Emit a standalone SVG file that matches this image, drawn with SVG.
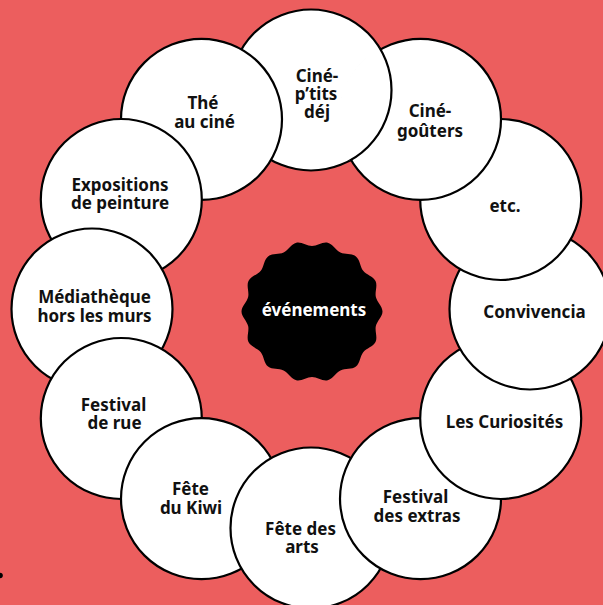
<svg xmlns="http://www.w3.org/2000/svg" xmlns:xlink="http://www.w3.org/1999/xlink" width="603" height="605" viewBox="0 0 603 605">
<style>
.bub{fill:#ffffff;stroke:#000000;stroke-width:2.2}
.lbl{font-family:"Noto Sans","Liberation Sans",sans-serif;font-weight:700;font-size:17px;fill:#111111;text-anchor:middle}
.ctr{font-family:"Noto Sans","Liberation Sans",sans-serif;font-weight:700;font-size:17px;fill:#ffffff;text-anchor:middle}
</style>
<defs>
<clipPath id="lens"><circle cx="420.5" cy="119.3" r="82.5"/></clipPath>
</defs>
<rect x="0" y="0" width="603" height="605" fill="#EC5E5E"/>
<g id="connectors"/>
<g id="n-ptits">
<circle id="c-ptits" class="bub" cx="311" cy="90" r="80.5"/>
<text class="lbl" x="317" y="81.5">Ciné-</text>
<text class="lbl" x="316" y="99.5">p’tits</text>
<text class="lbl" x="317" y="117.5">déj</text>
</g>
<g id="n-the">
<circle class="bub" cx="201.5" cy="119.3" r="80.5"/>
<text class="lbl" x="203" y="108.5">Thé</text>
<text class="lbl" x="204.5" y="127.7">au ciné</text>
</g>
<g id="n-expo">
<circle class="bub" cx="121.3" cy="199.5" r="80.5"/>
<text class="lbl" x="120" y="190.7">Expositions</text>
<text class="lbl" x="120" y="209.3">de peinture</text>
</g>
<g id="n-media">
<circle class="bub" cx="92" cy="309" r="80.5"/>
<text class="lbl" x="94.5" y="302.7">Médiathèque</text>
<text class="lbl" x="94.5" y="321.7">hors les murs</text>
</g>
<g id="n-rue">
<circle class="bub" cx="121.3" cy="418.5" r="80.5"/>
<text class="lbl" x="113.5" y="411">Festival</text>
<text class="lbl" x="114.5" y="429.3">de rue</text>
</g>
<g id="n-kiwi">
<circle class="bub" cx="201.5" cy="498.7" r="80.5"/>
<text class="lbl" x="190.5" y="495">Fête</text>
<text class="lbl" x="191" y="514">du Kiwi</text>
</g>
<g id="n-arts">
<circle class="bub" cx="311" cy="528" r="80.5"/>
<text class="lbl" x="300.5" y="535">Fête des</text>
<text class="lbl" x="302" y="553">arts</text>
</g>
<g id="n-extras">
<circle class="bub" cx="420.5" cy="498.7" r="80.5"/>
<text class="lbl" x="415.5" y="503">Festival</text>
<text class="lbl" x="417" y="522">des extras</text>
</g>
<g id="n-curiosites">
<circle class="bub" cx="500.7" cy="418.5" r="80.5"/>
<text class="lbl" x="504.5" y="428.3">Les Curiosités</text>
</g>
<g id="n-convivencia">
<circle class="bub" cx="530" cy="309" r="80.5"/>
<text class="lbl" x="534.5" y="318">Convivencia</text>
</g>
<g id="n-etc">
<circle class="bub" cx="500.7" cy="199.5" r="80.5"/>
<text class="lbl" x="505" y="212">etc.</text>
</g>
<g id="n-gouters">
<circle class="bub" cx="420.5" cy="119.3" r="80.5"/>
<text class="lbl" x="430" y="117">Ciné-</text>
<text class="lbl" x="430" y="136.5">goûters</text>
</g>
<use xlink:href="#c-ptits" href="#c-ptits" clip-path="url(#lens)"/>
<g id="n-evenements">
<path fill="#000000" d="M312,377 C306.8,377 301.38,381.39 296.31,380.23 S288.27,372.78 283.58,370.52 S272.11,369.86 268.04,366.62 S264.03,356.41 260.79,352.34 S250.74,346.78 248.48,342.09 S249.3,331.14 248.14,326.07 S241.5,316.7 241.5,311.5 S246.98,302 248.14,296.93 S246.22,285.6 248.48,280.91 S257.55,274.73 260.79,270.66 S263.98,259.62 268.04,256.38 S278.9,254.74 283.58,252.48 S291.24,243.93 296.31,242.77 S306.8,246 312,246 S322.62,241.61 327.69,242.77 S335.74,250.22 340.42,252.48 S351.9,253.14 355.96,256.38 S359.97,266.6 363.21,270.66 S373.26,276.23 375.52,280.91 S374.7,291.86 375.86,296.93 S382.5,306.3 382.5,311.5 S377.02,321 375.86,326.07 S377.78,337.41 375.52,342.09 S366.45,348.28 363.21,352.34 S360.03,363.38 355.96,366.62 S345.11,368.26 340.42,370.52 S332.76,379.07 327.69,380.23 S317.2,377 312,377 Z"/>
<text class="ctr" x="314" y="316">événements</text>
</g>
<circle cx="0" cy="575.5" r="2.8" fill="#000000"/>
</svg>
